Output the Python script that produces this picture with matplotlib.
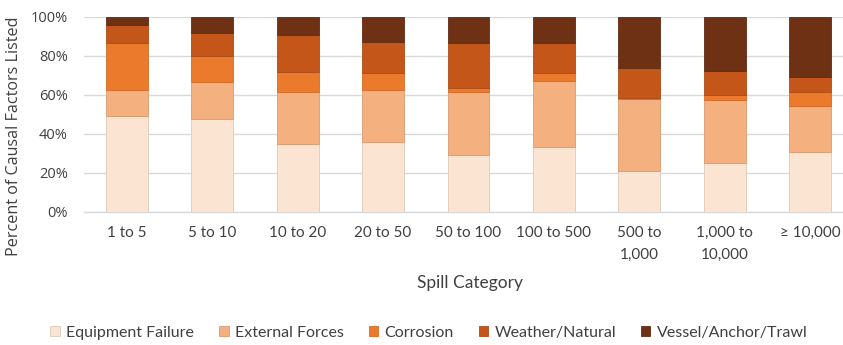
import matplotlib.pyplot as plt
import matplotlib.colors as mcolors
import numpy as np

# spill size bins
categories = ["1 to 5", "5 to 10", "10 to 20", "20 to 50", "50 to 100",
              "100 to 500", "500 to\n1,000", "1,000 to\n10,000", "\u2265 10,000"]

# share of causal factors per bin (percent)
equipment_failure = [49.1, 47.4, 34.7, 35.9, 29.1, 33.3, 21.0, 25.1, 30.8]
external_forces = [13.3, 19.3, 26.8, 26.5, 32.4, 33.6, 36.8, 32.2, 23.4]
corrosion = [24.3, 13.3, 10.1, 8.6, 1.8, 4.1, 0.6, 2.5, 7.3]
weather_natural = [8.9, 11.8, 18.9, 16.0, 23.4, 15.7, 15.4, 12.5, 7.4]
vessel_anchor_trawl = [4.4, 8.2, 9.5, 13.0, 13.3, 13.3, 26.2, 27.7, 31.1]

series = ["Equipment Failure", "External Forces", "Corrosion",
          "Weather/Natural", "Vessel/Anchor/Trawl"]
colors = ["#FCE4D2", "#F4B17F", "#EC7A2C", "#C4561A", "#6E3113"]

narrow = ["Lato", "DejaVu Sans"]
wide = ["Open Sans", "DejaVu Sans"]

fig = plt.figure(figsize=(8.43, 3.45), dpi=100)
ax = fig.add_axes([0.100, 0.3864, 0.9115, 0.5652])

x = np.arange(len(categories))
bottom = np.zeros(len(categories))
data = [equipment_failure, external_forces, corrosion, weather_natural, vessel_anchor_trawl]
for name, vals, c in zip(series, data, colors):
    vals = np.array(vals) / 100.0
    edge = tuple(v * 0.88 for v in mcolors.to_rgb(c))
    ax.bar(x, vals, 0.49, bottom=bottom, color=c, label=name,
           edgecolor=edge, linewidth=0.6, zorder=3)
    bottom += vals

ax.set_xlim(-0.5, len(categories) - 0.5)
ax.set_ylim(0, 1)
ax.set_yticks(np.arange(0, 1.01, 0.2))
ax.set_yticklabels([f"{int(round(v * 100))}%" for v in np.arange(0, 1.01, 0.2)],
                   family=wide, fontsize=10.5, color="#404040")
ax.set_xticks(x)
ax.set_xticklabels(categories, family=narrow, fontsize=11, color="#404040",
                   linespacing=1.75, va="top")
ax.tick_params(axis="x", length=0, pad=10)
ax.tick_params(axis="y", length=0, pad=12)

ax.grid(axis="y", color="#D9D9D9", linewidth=1, zorder=0)
for s in ["top", "right", "left"]:
    ax.spines[s].set_visible(False)
ax.spines["bottom"].set_color("#D9D9D9")
ax.spines["bottom"].set_linewidth(1)

fig.text(470 / 843, 1 - 283 / 345, "Spill Category", ha="center", va="center",
         family=narrow, fontsize=12.5, color="#404040")
fig.text(14 / 843, 1 - 136 / 345, "Percent of Causal Factors Listed", rotation=90,
         ha="center", va="center", family=wide, fontsize=11.6, color="#404040")

leg = fig.legend(loc="center", bbox_to_anchor=(429 / 843, 1 - 333 / 345), ncol=5,
                 frameon=False, prop={"family": narrow, "size": 11.5},
                 handlelength=0.6, handleheight=0.6, handletextpad=0.4,
                 columnspacing=1.55)
for t in leg.get_texts():
    t.set_color("#404040")

fig.savefig("out.png", dpi=100)
